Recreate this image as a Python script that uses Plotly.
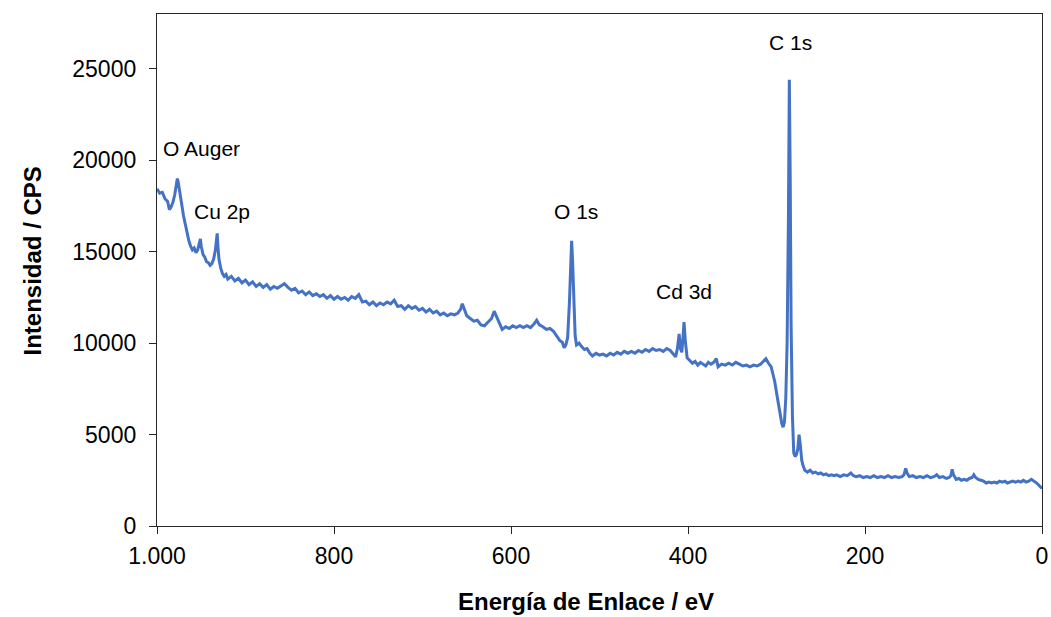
import plotly.graph_objects as go

# ---- Data (binding energy in eV, intensity in CPS) ----
ev_auger_cu = [1000, 997, 994, 991, 988,
               986, 984, 982, 980, 978,
               977, 976, 974, 972, 970,
               968, 966, 964, 962, 960,
               958, 956, 954, 952, 951,
               950, 948, 946, 944, 942,
               940, 938, 936, 934, 933,
               932, 931, 930, 928, 926,
               924, 922]
cps_auger_cu = [18450, 18200, 18250, 17900, 17750,
                17300, 17450, 17700, 18100, 18700,
                19000, 18800, 18100, 17500, 16950,
                16500, 16000, 15600, 15300, 15100,
                15200, 14950, 15100, 15600, 15700,
                15300, 14850, 14700, 14450, 14400,
                14250, 14350, 14600, 15100, 15800,
                16000, 15200, 14600, 14100, 13800,
                13650, 13750]

ev_o1s = [920, 916, 912, 908, 904,
          900, 896, 892, 888, 884,
          880, 876, 872, 868, 864,
          860, 856, 852, 848, 844,
          840, 836, 832, 828, 824,
          820, 816, 812, 808, 804,
          800, 796, 792, 788, 784,
          780, 776, 772, 768, 764,
          760, 756, 752, 748, 744,
          740, 736, 732, 728, 724,
          720, 716, 712, 708, 704,
          700, 696, 692, 688, 684,
          680, 676, 672, 668, 664,
          660, 657, 655, 653, 650,
          646, 642, 638, 634, 630,
          626, 622, 619, 616, 613,
          610, 606, 602, 598, 594,
          590, 586, 582, 578, 574,
          571, 568, 564, 560, 556,
          552, 548, 545, 542, 540,
          538, 536, 534, 532.5, 531.5,
          530.5, 529, 527.5, 526, 523,
          520, 517, 514, 511, 508]
cps_o1s = [13500, 13650, 13400, 13550, 13300,
           13450, 13200, 13350, 13100, 13250,
           13050, 13200, 12950, 13100, 13000,
           13150, 13250, 13050, 12900, 13000,
           12750, 12850, 12650, 12800, 12600,
           12700, 12550, 12650, 12450, 12600,
           12400, 12550, 12400, 12500, 12350,
           12550, 12450, 12650, 12250, 12300,
           12100, 12250, 12050, 12200, 12100,
           12250, 12150, 12350, 12000, 12050,
           11850, 12050, 11900, 12000, 11800,
           11900, 11700, 11850, 11650, 11750,
           11550, 11650, 11500, 11600, 11550,
           11650, 11850, 12150, 11900, 11500,
           11350, 11200, 11250, 11000, 10950,
           11150, 11350, 11750, 11400, 11000,
           10750, 10900, 10800, 10950, 10850,
           10950, 10850, 10950, 10850, 11050,
           11250, 11000, 10900, 10750, 10800,
           10650, 10400, 10150, 10050, 9750,
           9900, 10300, 12200, 14500, 15600,
           14600, 12000, 10400, 9900, 10000,
           9800, 9650, 9700, 9450, 9300]

ev_cd3d = [504, 500, 496, 492, 488,
           484, 480, 476, 472, 468,
           464, 460, 456, 452, 448,
           444, 440, 436, 432, 428,
           424, 420, 417, 414, 412,
           410, 408.5, 407, 405.5, 404.5,
           403, 401, 398, 395, 392,
           389, 386, 383, 380, 377,
           374, 371, 368, 366, 362,
           358, 354, 350, 346, 342,
           338, 334, 330, 326, 322,
           318, 315, 312, 309, 306]
cps_cd3d = [9450, 9350, 9400, 9300, 9450,
            9350, 9500, 9400, 9550, 9450,
            9550, 9450, 9600, 9500, 9650,
            9550, 9700, 9600, 9650, 9550,
            9700, 9600, 9450, 9250, 9700,
            10500, 9700, 9500, 10400, 11150,
            10100, 9200, 9050, 8900, 9000,
            8800, 8950, 8850, 8750, 8950,
            8850, 8950, 9150, 8700, 8850,
            8800, 8900, 8800, 8950, 8850,
            8750, 8800, 8700, 8800, 8750,
            8850, 9000, 9150, 8900, 8700]

ev_c1s = [304, 302, 300, 298, 296,
          294, 292.5, 291, 289.5, 288,
          286.5, 285.5, 284.5, 283.5, 282,
          280.5, 279, 277.5, 276, 274.5,
          273, 271.5, 270, 268, 265]
cps_c1s = [8300, 7900, 7300, 6700, 6100,
           5600, 5400, 5700, 7000, 10000,
           17000, 24400, 19000, 11000, 6000,
           4000, 3800, 3900, 4200, 5000,
           4400, 3600, 3300, 3050, 2950]

ev_low = [262, 259, 256, 253, 250,
          247, 244, 241, 238, 235,
          232, 228, 224, 220, 216,
          213, 210, 206, 202, 198,
          194, 190, 186, 182, 178,
          174, 170, 166, 162, 158,
          156, 154, 152.5, 150, 146,
          142, 138, 134, 130, 126,
          122, 119, 116, 112, 108,
          105, 103, 101.5, 100, 97,
          94, 91, 88, 85, 82,
          79, 77, 75, 72, 69,
          66, 63, 60, 57, 54,
          51, 48, 45, 42, 39,
          36, 33, 30, 27, 24,
          21, 18, 15, 12, 9,
          6, 3, 0]
cps_low = [3050, 2900, 2950, 2850, 2900,
           2800, 2850, 2750, 2800, 2750,
           2800, 2700, 2800, 2750, 2900,
           2750, 2700, 2750, 2650, 2700,
           2650, 2750, 2650, 2700, 2650,
           2750, 2650, 2700, 2650, 2700,
           2800, 3150, 2900, 2700, 2750,
           2650, 2700, 2650, 2750, 2650,
           2700, 2800, 2650, 2700, 2600,
           2650, 2750, 3100, 2800, 2550,
           2600, 2500, 2550, 2500, 2600,
           2650, 2800, 2650, 2550, 2500,
           2450, 2350, 2400, 2350, 2400,
           2350, 2450, 2400, 2450, 2350,
           2400, 2450, 2400, 2450, 2400,
           2500, 2400, 2450, 2550, 2450,
           2350, 2200, 2050]

peak_labels = ["O Auger", "Cu 2p", "O 1s", "Cd 3d", "C 1s"]
peak_label_ev = [949.5, 927, 526, 404.6, 284]
peak_label_cps = [20640, 17200, 17200, 12800, 26450]

x_tick_vals = [1000, 800, 600, 400, 200, 0]
x_tick_text = ["1.000", "800", "600", "400", "200", "0"]
y_tick_vals = [0, 5000, 10000, 15000, 20000, 25000]
y_tick_text = ["0", "5000", "10000", "15000", "20000", "25000"]

x_title = "Energía de Enlace / eV"
y_title = "Intensidad / CPS"

energy = ev_auger_cu + ev_o1s + ev_cd3d + ev_c1s + ev_low
intensity = cps_auger_cu + cps_o1s + cps_cd3d + cps_c1s + cps_low

FONT = "Liberation Sans, Arial, sans-serif"

fig = go.Figure()
fig.add_trace(go.Scatter(
    x=energy, y=intensity, mode="lines",
    line=dict(color="#4472C4", width=3),
    showlegend=False, hoverinfo="skip",
))

for txt, xv, yv in zip(peak_labels, peak_label_ev, peak_label_cps):
    fig.add_annotation(x=xv, y=yv, text=txt, showarrow=False,
                       xanchor="center", yanchor="middle",
                       font=dict(family=FONT, size=21, color="#000000"))

# axis titles (placed as in the reference, slightly off-centre)
fig.add_annotation(xref="paper", yref="paper", x=0.4847, y=-0.1484,
                   text="<b>" + x_title + "</b>", showarrow=False,
                   xanchor="center", yanchor="middle", borderpad=0,
                   font=dict(family=FONT, size=24, color="#000000"))
fig.add_annotation(xref="paper", yref="paper", x=-0.1412, y=0.5166,
                   text="<b>" + y_title + "</b>", showarrow=False,
                   textangle=-90, xanchor="center", yanchor="middle",
                   font=dict(family=FONT, size=24, color="#000000"))

fig.update_layout(
    width=1051, height=617,
    margin=dict(l=157, r=9, t=14, b=91),
    paper_bgcolor="white", plot_bgcolor="white",
    font=dict(family=FONT, color="#000000"),
)
fig.update_xaxes(
    range=[1000, 0], tickvals=x_tick_vals, ticktext=x_tick_text,
    automargin=False,
    showgrid=False, zeroline=False,
    showline=True, linecolor="#262626", linewidth=1.3, mirror=True,
    ticks="outside", ticklen=7, tickcolor="#262626", tickwidth=1.3,
    ticklabelstandoff=2,
    tickfont=dict(family=FONT, size=23, color="#000000"),
)
fig.update_yaxes(
    range=[0, 28000], tickvals=y_tick_vals, ticktext=y_tick_text,
    automargin=False,
    showgrid=False, zeroline=False,
    showline=True, linecolor="#262626", linewidth=1.3, mirror=True,
    ticks="outside", ticklen=7, tickcolor="#262626", tickwidth=1.3,
    ticklabelstandoff=8,
    tickfont=dict(family=FONT, size=23, color="#000000"),
)

fig.write_html(
    "out.html",
    config={"displayModeBar": False},
    post_script="document.body.style.margin='0';document.body.style.padding='0';",
)
